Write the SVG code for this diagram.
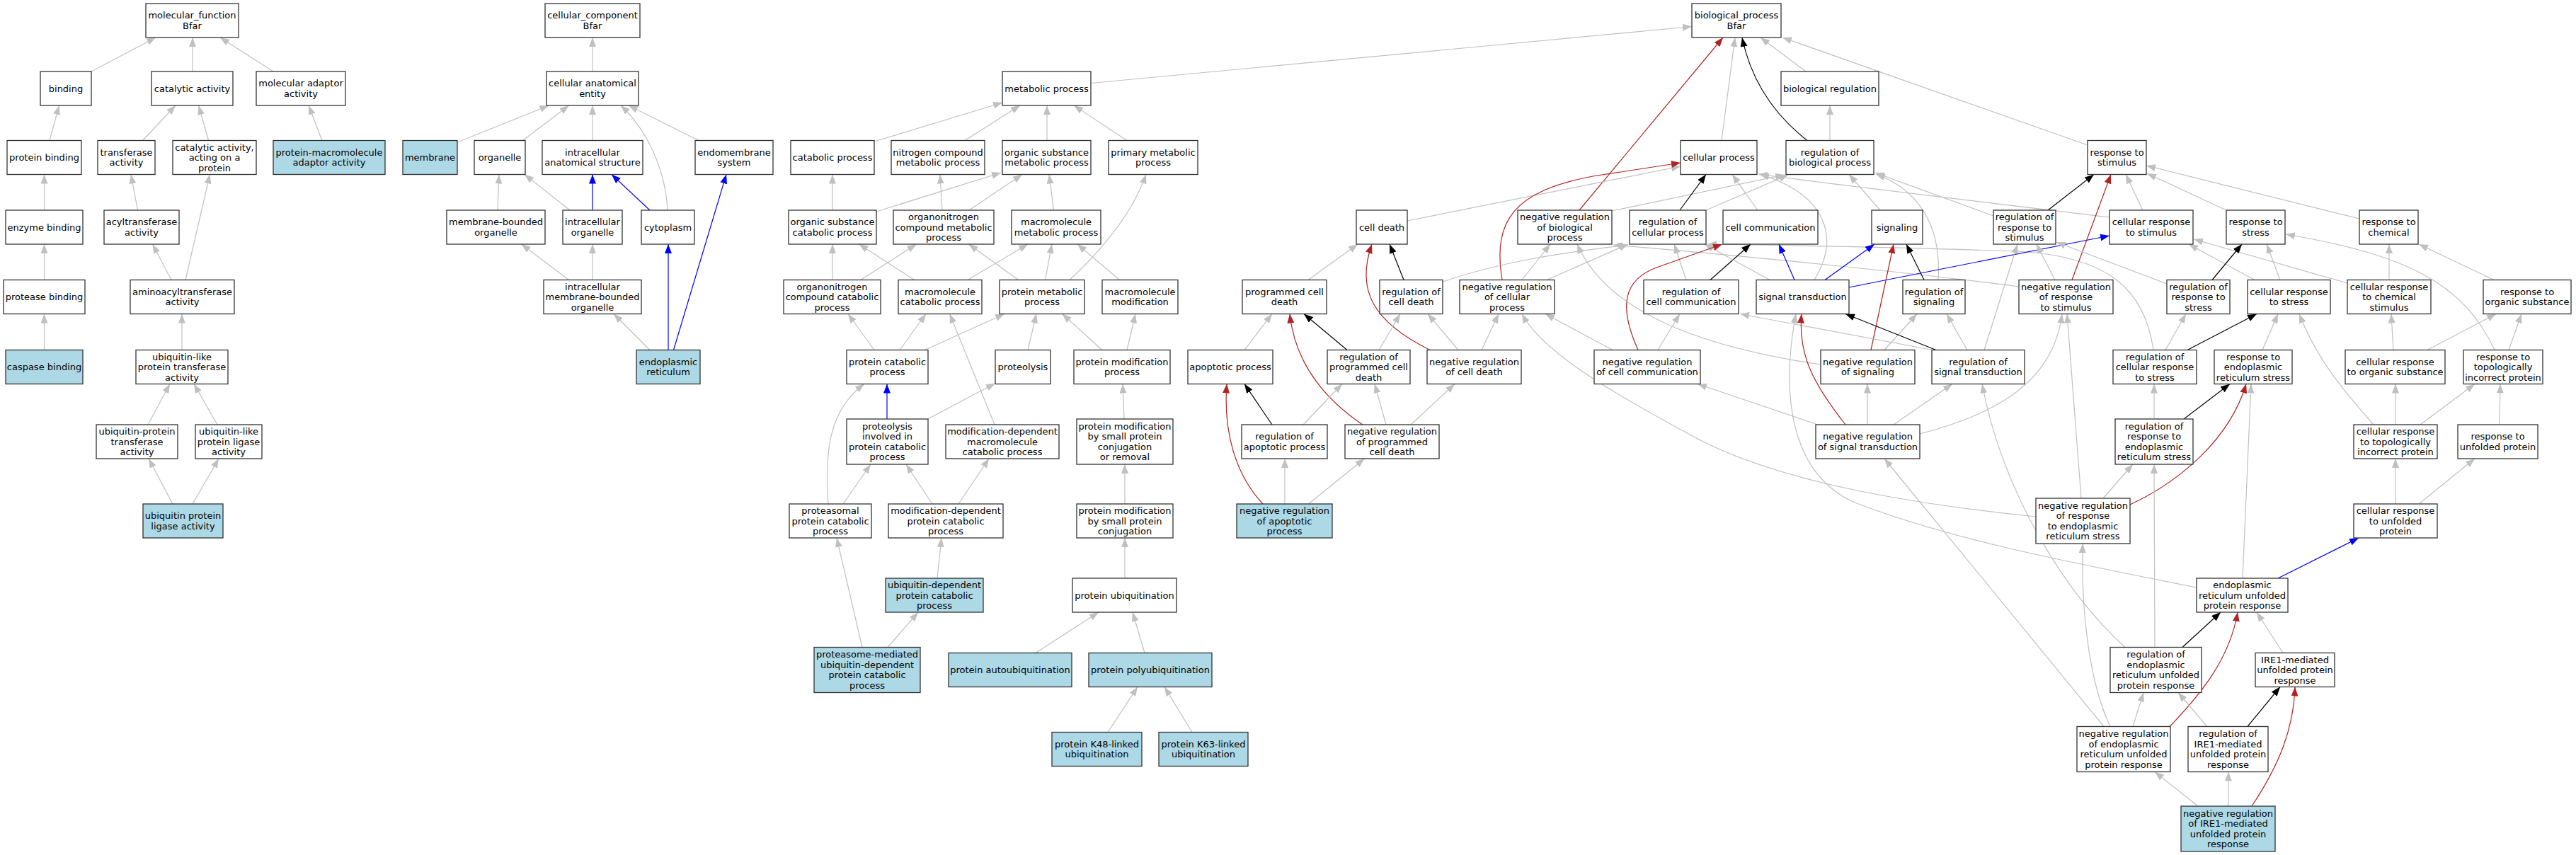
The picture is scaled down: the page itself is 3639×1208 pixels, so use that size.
<svg xmlns="http://www.w3.org/2000/svg" width="3639" height="1208" viewBox="0 0 3639 1208">
<style>
rect{fill:#fff;stroke:#333;stroke-width:1.3}
.hl rect{fill:#add8e6}
text{font-family:"DejaVu Sans",sans-serif;font-size:13px;text-anchor:middle;fill:#000}
#edges path{fill:none;stroke-width:1.2}
#edges .g{stroke:#c0c0c0;marker-end:url(#ag)}
#edges .k{stroke:#000;marker-end:url(#ak)}
#edges .b{stroke:#0000ff;marker-end:url(#ab)}
#edges .r{stroke:#b22222;marker-end:url(#ar)}
</style>
<defs>
<marker id="ag" markerUnits="userSpaceOnUse" markerWidth="13" markerHeight="10" refX="13" refY="5" orient="auto"><path d="M0,0L13,5L0,10z" fill="#c0c0c0"/></marker>
<marker id="ak" markerUnits="userSpaceOnUse" markerWidth="13" markerHeight="10" refX="13" refY="5" orient="auto"><path d="M0,0L13,5L0,10z" fill="#000"/></marker>
<marker id="ab" markerUnits="userSpaceOnUse" markerWidth="13" markerHeight="10" refX="13" refY="5" orient="auto"><path d="M0,0L13,5L0,10z" fill="#0000ff"/></marker>
<marker id="ar" markerUnits="userSpaceOnUse" markerWidth="13" markerHeight="10" refX="13" refY="5" orient="auto"><path d="M0,0L13,5L0,10z" fill="#b22222"/></marker>
</defs>
<rect x="0" y="0" width="3639" height="1208" style="fill:#fff;stroke:none"/>
<g id="edges">
<path class="g" d="M129,101L220,53"/>
<path class="g" d="M272,101L272,53"/>
<path class="g" d="M386,101L311,53"/>
<path class="g" d="M70,198.5L83.5,149"/>
<path class="g" d="M201.5,198.5L248,149"/>
<path class="g" d="M294.6,198.5L280.6,149"/>
<path class="g" d="M455,198.5L436,149"/>
<path class="g" d="M62.5,297L62.5,246.5"/>
<path class="g" d="M194.5,297L185,246.5"/>
<path class="g" d="M62.5,395.5L62.5,345"/>
<path class="g" d="M242,395.5L215.6,345"/>
<path class="g" d="M262,395.5L296.5,246.5"/>
<path class="g" d="M62.5,494.5L62.5,443.5"/>
<path class="g" d="M257,494.5L257,443.5"/>
<path class="g" d="M209,600L240,542.5"/>
<path class="g" d="M307,600L274,542.5"/>
<path class="g" d="M244,712L210,648"/>
<path class="g" d="M272,712L309,648"/>
<path class="g" d="M837,101L837,53"/>
<path class="g" d="M646,201L775.5,149"/>
<path class="g" d="M738.5,198.5L803.6,149"/>
<path class="g" d="M837,198.5L837,149"/>
<path class="g" d="M943,297C940,240 915,185 877,149"/>
<path class="g" d="M987,198.5L888,149"/>
<path class="g" d="M703,297L705,246.5"/>
<path class="g" d="M805,297L741,246.5"/>
<path class="b" d="M837,297L837,246.5"/>
<path class="b" d="M918,297L864,246.5"/>
<path class="g" d="M803.6,395.5L736.6,345"/>
<path class="g" d="M837,395.5L837,345"/>
<path class="g" d="M918,494.5L867,443.5"/>
<path class="b" d="M944,494.5L944,345"/>
<path class="b" d="M951.5,494.5L1026,246.5"/>
<path class="g" d="M1541,117.5L2390,37.5"/>
<path class="g" d="M1235,200L1416,145"/>
<path class="g" d="M1363,198.5L1441,149"/>
<path class="g" d="M1479,198.5L1479,149"/>
<path class="g" d="M1592,198.5L1517,149"/>
<path class="g" d="M1176,297L1176,246.5"/>
<path class="g" d="M1238,299L1414,244"/>
<path class="g" d="M1331,297L1328,246.5"/>
<path class="g" d="M1369,297L1444,246.5"/>
<path class="g" d="M1488.5,297L1482,246.5"/>
<path class="g" d="M1176,395.5L1176,345"/>
<path class="g" d="M1216,395.5L1294.5,345"/>
<path class="g" d="M1291.6,395.5L1213.5,345"/>
<path class="g" d="M1367,395.5L1452,345"/>
<path class="g" d="M1438.6,395.5L1368.5,345"/>
<path class="g" d="M1476.5,395.5L1486,345"/>
<path class="g" d="M1511,395.5C1560,350 1600,300 1619,246.5"/>
<path class="g" d="M1581.5,395.5L1522,345"/>
<path class="g" d="M1235,494.5L1198,443.5"/>
<path class="g" d="M1271,494.5L1308,443.5"/>
<path class="g" d="M1306.5,494.5L1419,443.5"/>
<path class="g" d="M1452,494.5L1464,443.5"/>
<path class="g" d="M1557,494.5L1500.6,443.5"/>
<path class="g" d="M1592,494.5L1604,443.5"/>
<path class="g" d="M1758,494.5L1797,443.5"/>
<path class="g" d="M1848,395.5L1918,345"/>
<path class="k" d="M1903,494.5L1842,443.5"/>
<path class="r" d="M1784,712C1745,670 1728,610 1733,542.5"/>
<path class="k" d="M1797,600L1758,542.5"/>
<path class="r" d="M1925,600C1880,570 1830,520 1822,443.5"/>
<path class="g" d="M1815,712L1815,648"/>
<path class="g" d="M1848.5,712L1927.5,648"/>
<path class="g" d="M1588,592L1586,542.5"/>
<path class="g" d="M1589,712L1589,656"/>
<path class="g" d="M1589,817L1589,760"/>
<path class="g" d="M1463,922.5L1552,865"/>
<path class="g" d="M1617,922.5L1600,865"/>
<path class="g" d="M1565,1034.5L1607,970.5"/>
<path class="g" d="M1684,1034.5L1645,970.5"/>
<path class="b" d="M1253,592L1253,542.5"/>
<path class="g" d="M1310.6,592L1406,541.5"/>
<path class="g" d="M1405,600L1341.6,443.5"/>
<path class="g" d="M1170,712C1165,640 1170,580 1221,542.5"/>
<path class="g" d="M1191,712L1230,656"/>
<path class="g" d="M1317,712L1280,656"/>
<path class="g" d="M1354,712L1397,648"/>
<path class="g" d="M1324,817L1330,760"/>
<path class="g" d="M1218,914.5L1182,760"/>
<path class="g" d="M1254,914.5L1297,865"/>
<path class="g" d="M2432,198.5L2451,53"/>
<path class="k" d="M2553,198.5C2510,165 2475,120 2461,53"/>
<path class="g" d="M2551,101L2487,53"/>
<path class="g" d="M2949,205L2518,53"/>
<path class="g" d="M2585,198.5L2585,149"/>
<path class="r" d="M2231,297L2434,53"/>
<path class="g" d="M2277,298L2521,247"/>
<path class="g" d="M2410,297L2526,247"/>
<path class="k" d="M2373,297L2410,246.5"/>
<path class="g" d="M2483,297L2447,246.5"/>
<path class="g" d="M1988,312L2374,235"/>
<path class="r" d="M2122,395.5C2108,310 2140,270 2250,249L2374,230"/>
<path class="g" d="M2563,395.5C2600,335 2580,275 2486,246"/>
<path class="g" d="M2980,307C2800,285 2600,262 2484,246"/>
<path class="g" d="M2656,297L2612,246.5"/>
<path class="g" d="M2738,395.5C2742,330 2720,272 2650,246"/>
<path class="g" d="M2816,305L2649,244"/>
<path class="g" d="M2150,395.5L2190,345"/>
<path class="g" d="M2185,395.5L2300,345"/>
<path class="g" d="M2038,398C2120,370 2200,358 2299,346"/>
<path class="g" d="M2852,405C2700,385 2450,360 2279,346"/>
<path class="g" d="M3042,494.5C3030,410 2980,362 2850,355C2700,350 2550,347 2412,345"/>
<path class="k" d="M2416,395.5L2473,345"/>
<path class="g" d="M2382,395.5L2365,345"/>
<path class="b" d="M2535,395.5L2513,345"/>
<path class="b" d="M2578,395.5L2648,345"/>
<path class="g" d="M2500,395.5L2408,345"/>
<path class="b" d="M2612,406L2980,333"/>
<path class="k" d="M2718,395.5L2693,345"/>
<path class="r" d="M2314,494.5C2285,430 2295,395 2340,378L2433,345"/>
<path class="g" d="M2342,494.5L2373,443.5"/>
<path class="g" d="M2278,494.5L2183,443.5"/>
<path class="r" d="M2643,494.5L2675,345"/>
<path class="g" d="M2662,494.5L2708,443.5"/>
<path class="g" d="M2572,515C2400,490 2270,440 2228,345"/>
<path class="k" d="M2735,494.5L2607,443.5"/>
<path class="g" d="M2779,494.5L2750,443.5"/>
<path class="g" d="M2730,494.5L2458,443.5"/>
<path class="g" d="M2803,494.5L2850,345"/>
<path class="g" d="M2638,600L2638,542.5"/>
<path class="r" d="M2607,600C2560,540 2540,500 2545,443.5"/>
<path class="g" d="M2675,600L2758,542.5"/>
<path class="g" d="M2568,600L2398,542.5"/>
<path class="g" d="M2712,613C2800,590 2900,550 2913,443.5"/>
<path class="k" d="M1983,395.5L1963,345"/>
<path class="r" d="M2020,494.5C1940,455 1915,410 1938,345"/>
<path class="g" d="M2060,494.5L2017,443.5"/>
<path class="g" d="M2093,494.5L2117,443.5"/>
<path class="g" d="M1948,494.5L1978,443.5"/>
<path class="g" d="M1958,600L1942,542.5"/>
<path class="g" d="M1993,600L2055,542.5"/>
<path class="g" d="M1841,600L1896,542.5"/>
<path class="k" d="M2893,297L2958,246.5"/>
<path class="r" d="M2927,395.5L2982,246.5"/>
<path class="g" d="M3027,297L3003,246.5"/>
<path class="g" d="M3145,297L3033,245"/>
<path class="g" d="M3333,309L3032,234"/>
<path class="g" d="M2903,395.5L2877,345"/>
<path class="g" d="M3061,401L2905,342"/>
<path class="g" d="M3185,395.5L3092,345"/>
<path class="g" d="M3316,400L3099,338"/>
<path class="k" d="M3125,395.5L3167,345"/>
<path class="g" d="M3221,395.5L3202,345"/>
<path class="g" d="M3524,494.5C3480,400 3400,360 3229,331"/>
<path class="g" d="M3375,395.5L3375,345"/>
<path class="g" d="M3523,395.5L3417,345"/>
<path class="g" d="M3059,494.5L3088,443.5"/>
<path class="k" d="M3090,494.5L3188,443.5"/>
<path class="g" d="M3196,494.5L3218,443.5"/>
<path class="g" d="M3381,494.5L3378,443.5"/>
<path class="g" d="M3429,494.5L3526,443.5"/>
<path class="g" d="M3544,494.5L3562,443.5"/>
<path class="g" d="M3353,600C3300,540 3270,500 3248,443.5"/>
<path class="g" d="M3384,600L3384,542.5"/>
<path class="g" d="M3419,600L3496,542.5"/>
<path class="g" d="M3531,600L3532,542.5"/>
<path class="g" d="M3384,712L3384,648"/>
<path class="g" d="M3417,712L3496,648"/>
<path class="b" d="M3218,817L3332,760"/>
<path class="g" d="M3168,817L3180,542.5"/>
<path class="g" d="M3043,592L3043,542.5"/>
<path class="k" d="M3085,592L3150,542.5"/>
<path class="g" d="M2971,704L3013,656"/>
<path class="r" d="M3009,713C3080,680 3150,620 3173,542.5"/>
<path class="g" d="M2940,704L2920,443.5"/>
<path class="g" d="M2876,730C2700,712 2500,680 2380,610C2250,540 2175,490 2150,443.5"/>
<path class="g" d="M3103,830C2900,790 2750,760 2620,710C2530,670 2515,560 2537,443.5"/>
<path class="k" d="M3083,914.5L3137,865"/>
<path class="g" d="M3044,914.5L3043,656"/>
<path class="g" d="M3002,914.5C2920,840 2830,700 2800,542.5"/>
<path class="g" d="M3225,922.5L3188,865"/>
<path class="g" d="M3013,1026.5L3028,978.5"/>
<path class="r" d="M3065,1026.5C3110,980 3150,930 3161,865"/>
<path class="g" d="M2972,1026.5L2662,648"/>
<path class="g" d="M2981,1026.5C2950,960 2940,860 2942,768"/>
<path class="k" d="M3175,1026.5L3221,970.5"/>
<path class="g" d="M3118,1026.5L3077,978.5"/>
<path class="g" d="M3105,1139L3044,1090.5"/>
<path class="g" d="M3148,1139L3148,1090.5"/>
<path class="r" d="M3181,1139C3220,1080 3240,1030 3242,970.5"/>
</g>
<g id="n-mf"><rect x="206" y="5" width="131" height="48"/><text><tspan x="271.5" y="26.25">molecular_function</tspan><tspan x="271.5" y="40.75">Bfar</tspan></text></g>
<g id="n-binding"><rect x="57" y="101" width="72" height="48"/><text x="93" y="129.5">binding</text></g>
<g id="n-catalytic"><rect x="214" y="101" width="115" height="48"/><text x="271.5" y="129.5">catalytic activity</text></g>
<g id="n-moladaptor"><rect x="362" y="101" width="126" height="48"/><text><tspan x="425" y="122.25">molecular adaptor</tspan><tspan x="425" y="136.75">activity</tspan></text></g>
<g id="n-proteinbinding"><rect x="10" y="198.5" width="105" height="48"/><text x="62.5" y="227">protein binding</text></g>
<g id="n-transferase"><rect x="138" y="198.5" width="81" height="48"/><text><tspan x="178.5" y="219.75">transferase</tspan><tspan x="178.5" y="234.25">activity</tspan></text></g>
<g id="n-catprotein"><rect x="244" y="198.5" width="118" height="48"/><text><tspan x="303" y="212.5">catalytic activity,</tspan><tspan x="303" y="227">acting on a</tspan><tspan x="303" y="241.5">protein</tspan></text></g>
<g id="n-pmadaptor" class="hl"><rect x="386" y="198.5" width="158" height="48"/><text><tspan x="465" y="219.75">protein-macromolecule</tspan><tspan x="465" y="234.25">adaptor activity</tspan></text></g>
<g id="n-enzymebinding"><rect x="8" y="297" width="109" height="48"/><text x="62.5" y="325.5">enzyme binding</text></g>
<g id="n-acyl"><rect x="147" y="297" width="106" height="48"/><text><tspan x="200" y="318.25">acyltransferase</tspan><tspan x="200" y="332.75">activity</tspan></text></g>
<g id="n-proteasebinding"><rect x="5" y="395.5" width="115" height="48"/><text x="62.5" y="424">protease binding</text></g>
<g id="n-aminoacyl"><rect x="184" y="395.5" width="147" height="48"/><text><tspan x="257.5" y="416.75">aminoacyltransferase</tspan><tspan x="257.5" y="431.25">activity</tspan></text></g>
<g id="n-caspase" class="hl"><rect x="8" y="494.5" width="109" height="48"/><text x="62.5" y="523">caspase binding</text></g>
<g id="n-ubltransferase"><rect x="192" y="494.5" width="130" height="48"/><text><tspan x="257" y="508.5">ubiquitin-like</tspan><tspan x="257" y="523">protein transferase</tspan><tspan x="257" y="537.5">activity</tspan></text></g>
<g id="n-ubtransferase"><rect x="136" y="600" width="115" height="48"/><text><tspan x="193.5" y="614">ubiquitin-protein</tspan><tspan x="193.5" y="628.5">transferase</tspan><tspan x="193.5" y="643">activity</tspan></text></g>
<g id="n-ublligase"><rect x="276" y="600" width="94" height="48"/><text><tspan x="323" y="614">ubiquitin-like</tspan><tspan x="323" y="628.5">protein ligase</tspan><tspan x="323" y="643">activity</tspan></text></g>
<g id="n-ubligase" class="hl"><rect x="202" y="712" width="113" height="48"/><text><tspan x="258.5" y="733.25">ubiquitin protein</tspan><tspan x="258.5" y="747.75">ligase activity</tspan></text></g>
<g id="n-cc"><rect x="770" y="5" width="134" height="48"/><text><tspan x="837" y="26.25">cellular_component</tspan><tspan x="837" y="40.75">Bfar</tspan></text></g>
<g id="n-cae"><rect x="772" y="101" width="130" height="48"/><text><tspan x="837" y="122.25">cellular anatomical</tspan><tspan x="837" y="136.75">entity</tspan></text></g>
<g id="n-membrane" class="hl"><rect x="569" y="198.5" width="77" height="48"/><text x="607.5" y="227">membrane</text></g>
<g id="n-organelle"><rect x="670" y="198.5" width="72" height="48"/><text x="706" y="227">organelle</text></g>
<g id="n-ias"><rect x="766" y="198.5" width="142" height="48"/><text><tspan x="837" y="219.75">intracellular</tspan><tspan x="837" y="234.25">anatomical structure</tspan></text></g>
<g id="n-endomembrane"><rect x="982" y="198.5" width="110" height="48"/><text><tspan x="1037" y="219.75">endomembrane</tspan><tspan x="1037" y="234.25">system</tspan></text></g>
<g id="n-mbo"><rect x="631" y="297" width="139" height="48"/><text><tspan x="700.5" y="318.25">membrane-bounded</tspan><tspan x="700.5" y="332.75">organelle</tspan></text></g>
<g id="n-io"><rect x="795" y="297" width="84" height="48"/><text><tspan x="837" y="318.25">intracellular</tspan><tspan x="837" y="332.75">organelle</tspan></text></g>
<g id="n-cytoplasm"><rect x="906" y="297" width="75" height="48"/><text x="943.5" y="325.5">cytoplasm</text></g>
<g id="n-imbo"><rect x="768" y="395.5" width="138" height="48"/><text><tspan x="837" y="409.5">intracellular</tspan><tspan x="837" y="424">membrane-bounded</tspan><tspan x="837" y="438.5">organelle</tspan></text></g>
<g id="n-er" class="hl"><rect x="899" y="494.5" width="90" height="48"/><text><tspan x="944" y="515.75">endoplasmic</tspan><tspan x="944" y="530.25">reticulum</tspan></text></g>
<g id="n-bp"><rect x="2390" y="5" width="126" height="48"/><text><tspan x="2453" y="26.25">biological_process</tspan><tspan x="2453" y="40.75">Bfar</tspan></text></g>
<g id="n-mp"><rect x="1416" y="101" width="125" height="48"/><text x="1478.5" y="129.5">metabolic process</text></g>
<g id="n-catabolic"><rect x="1117" y="198.5" width="118" height="48"/><text x="1176" y="227">catabolic process</text></g>
<g id="n-ncmp"><rect x="1259" y="198.5" width="132" height="48"/><text><tspan x="1325" y="219.75">nitrogen compound</tspan><tspan x="1325" y="234.25">metabolic process</tspan></text></g>
<g id="n-osmp"><rect x="1416" y="198.5" width="125" height="48"/><text><tspan x="1478.5" y="219.75">organic substance</tspan><tspan x="1478.5" y="234.25">metabolic process</tspan></text></g>
<g id="n-primary"><rect x="1566" y="198.5" width="126" height="48"/><text><tspan x="1629" y="219.75">primary metabolic</tspan><tspan x="1629" y="234.25">process</tspan></text></g>
<g id="n-oscp"><rect x="1114" y="297" width="124" height="48"/><text><tspan x="1176" y="318.25">organic substance</tspan><tspan x="1176" y="332.75">catabolic process</tspan></text></g>
<g id="n-oncmp"><rect x="1262" y="297" width="142" height="48"/><text><tspan x="1333" y="311">organonitrogen</tspan><tspan x="1333" y="325.5">compound metabolic</tspan><tspan x="1333" y="340">process</tspan></text></g>
<g id="n-mmp"><rect x="1429" y="297" width="126" height="48"/><text><tspan x="1492" y="318.25">macromolecule</tspan><tspan x="1492" y="332.75">metabolic process</tspan></text></g>
<g id="n-onccp"><rect x="1107" y="395.5" width="137" height="48"/><text><tspan x="1175.5" y="409.5">organonitrogen</tspan><tspan x="1175.5" y="424">compound catabolic</tspan><tspan x="1175.5" y="438.5">process</tspan></text></g>
<g id="n-mcp"><rect x="1269" y="395.5" width="118" height="48"/><text><tspan x="1328" y="416.75">macromolecule</tspan><tspan x="1328" y="431.25">catabolic process</tspan></text></g>
<g id="n-pmp"><rect x="1412" y="395.5" width="120" height="48"/><text><tspan x="1472" y="416.75">protein metabolic</tspan><tspan x="1472" y="431.25">process</tspan></text></g>
<g id="n-mmod"><rect x="1557" y="395.5" width="107" height="48"/><text><tspan x="1610.5" y="416.75">macromolecule</tspan><tspan x="1610.5" y="431.25">modification</tspan></text></g>
<g id="n-pcp"><rect x="1196" y="494.5" width="115" height="48"/><text><tspan x="1253.5" y="515.75">protein catabolic</tspan><tspan x="1253.5" y="530.25">process</tspan></text></g>
<g id="n-proteolysis"><rect x="1406" y="494.5" width="78" height="48"/><text x="1445" y="523">proteolysis</text></g>
<g id="n-pmodp"><rect x="1517" y="494.5" width="136" height="48"/><text><tspan x="1585" y="515.75">protein modification</tspan><tspan x="1585" y="530.25">process</tspan></text></g>
<g id="n-pipcp"><rect x="1196" y="592" width="115" height="64"/><text><tspan x="1253.5" y="606.75">proteolysis</tspan><tspan x="1253.5" y="621.25">involved in</tspan><tspan x="1253.5" y="635.75">protein catabolic</tspan><tspan x="1253.5" y="650.25">process</tspan></text></g>
<g id="n-mdmcp"><rect x="1336" y="600" width="160" height="48"/><text><tspan x="1416" y="614">modification-dependent</tspan><tspan x="1416" y="628.5">macromolecule</tspan><tspan x="1416" y="643">catabolic process</tspan></text></g>
<g id="n-pmspcr"><rect x="1521" y="592" width="136" height="64"/><text><tspan x="1589" y="606.75">protein modification</tspan><tspan x="1589" y="621.25">by small protein</tspan><tspan x="1589" y="635.75">conjugation</tspan><tspan x="1589" y="650.25">or removal</tspan></text></g>
<g id="n-ppcp"><rect x="1115" y="712" width="116" height="48"/><text><tspan x="1173" y="726">proteasomal</tspan><tspan x="1173" y="740.5">protein catabolic</tspan><tspan x="1173" y="755">process</tspan></text></g>
<g id="n-mdpcp"><rect x="1255" y="712" width="162" height="48"/><text><tspan x="1336" y="726">modification-dependent</tspan><tspan x="1336" y="740.5">protein catabolic</tspan><tspan x="1336" y="755">process</tspan></text></g>
<g id="n-pmspc"><rect x="1521" y="712" width="136" height="48"/><text><tspan x="1589" y="726">protein modification</tspan><tspan x="1589" y="740.5">by small protein</tspan><tspan x="1589" y="755">conjugation</tspan></text></g>
<g id="n-udpcp" class="hl"><rect x="1251" y="817" width="138" height="48"/><text><tspan x="1320" y="831">ubiquitin-dependent</tspan><tspan x="1320" y="845.5">protein catabolic</tspan><tspan x="1320" y="860">process</tspan></text></g>
<g id="n-pu"><rect x="1515" y="817" width="147" height="48"/><text x="1588.5" y="845.5">protein ubiquitination</text></g>
<g id="n-pmudpcp" class="hl"><rect x="1150" y="914.5" width="150" height="64"/><text><tspan x="1225" y="929.25">proteasome-mediated</tspan><tspan x="1225" y="943.75">ubiquitin-dependent</tspan><tspan x="1225" y="958.25">protein catabolic</tspan><tspan x="1225" y="972.75">process</tspan></text></g>
<g id="n-pau" class="hl"><rect x="1340" y="922.5" width="174" height="48"/><text x="1427" y="951">protein autoubiquitination</text></g>
<g id="n-ppu" class="hl"><rect x="1538" y="922.5" width="174" height="48"/><text x="1625" y="951">protein polyubiquitination</text></g>
<g id="n-k48" class="hl"><rect x="1486" y="1034.5" width="127" height="48"/><text><tspan x="1549.5" y="1055.75">protein K48-linked</tspan><tspan x="1549.5" y="1070.25">ubiquitination</tspan></text></g>
<g id="n-k63" class="hl"><rect x="1637" y="1034.5" width="126" height="48"/><text><tspan x="1700" y="1055.75">protein K63-linked</tspan><tspan x="1700" y="1070.25">ubiquitination</tspan></text></g>
<g id="n-pcd"><rect x="1755" y="395.5" width="119" height="48"/><text><tspan x="1814.5" y="416.75">programmed cell</tspan><tspan x="1814.5" y="431.25">death</tspan></text></g>
<g id="n-ap"><rect x="1678" y="494.5" width="120" height="48"/><text x="1738" y="523">apoptotic process</text></g>
<g id="n-rpcd"><rect x="1875" y="494.5" width="117" height="48"/><text><tspan x="1933.5" y="508.5">regulation of</tspan><tspan x="1933.5" y="523">programmed cell</tspan><tspan x="1933.5" y="537.5">death</tspan></text></g>
<g id="n-rap"><rect x="1754" y="600" width="121" height="48"/><text><tspan x="1814.5" y="621.25">regulation of</tspan><tspan x="1814.5" y="635.75">apoptotic process</tspan></text></g>
<g id="n-nrpcd"><rect x="1900" y="600" width="133" height="48"/><text><tspan x="1966.5" y="614">negative regulation</tspan><tspan x="1966.5" y="628.5">of programmed</tspan><tspan x="1966.5" y="643">cell death</tspan></text></g>
<g id="n-nrap" class="hl"><rect x="1747" y="712" width="135" height="48"/><text><tspan x="1814.5" y="726">negative regulation</tspan><tspan x="1814.5" y="740.5">of apoptotic</tspan><tspan x="1814.5" y="755">process</tspan></text></g>
<g id="n-celldeath"><rect x="1916" y="297" width="72" height="48"/><text x="1952" y="325.5">cell death</text></g>
<g id="n-rcd"><rect x="1949" y="395.5" width="89" height="48"/><text><tspan x="1993.5" y="416.75">regulation of</tspan><tspan x="1993.5" y="431.25">cell death</tspan></text></g>
<g id="n-nrcd"><rect x="2016" y="494.5" width="133" height="48"/><text><tspan x="2082.5" y="515.75">negative regulation</tspan><tspan x="2082.5" y="530.25">of cell death</tspan></text></g>
<g id="n-bioreg"><rect x="2516" y="101" width="138" height="48"/><text x="2585" y="129.5">biological regulation</text></g>
<g id="n-cp"><rect x="2374" y="198.5" width="108" height="48"/><text x="2428" y="227">cellular process</text></g>
<g id="n-rbp"><rect x="2523" y="198.5" width="124" height="48"/><text><tspan x="2585" y="219.75">regulation of</tspan><tspan x="2585" y="234.25">biological process</tspan></text></g>
<g id="n-nrbp"><rect x="2144" y="297" width="133" height="48"/><text><tspan x="2210.5" y="311">negative regulation</tspan><tspan x="2210.5" y="325.5">of biological</tspan><tspan x="2210.5" y="340">process</tspan></text></g>
<g id="n-rcp"><rect x="2302" y="297" width="108" height="48"/><text><tspan x="2356" y="318.25">regulation of</tspan><tspan x="2356" y="332.75">cellular process</tspan></text></g>
<g id="n-cellcomm"><rect x="2434" y="297" width="134" height="48"/><text x="2501" y="325.5">cell communication</text></g>
<g id="n-signaling"><rect x="2644" y="297" width="72" height="48"/><text x="2680" y="325.5">signaling</text></g>
<g id="n-nrcp"><rect x="2062" y="395.5" width="134" height="48"/><text><tspan x="2129" y="409.5">negative regulation</tspan><tspan x="2129" y="424">of cellular</tspan><tspan x="2129" y="438.5">process</tspan></text></g>
<g id="n-rcc"><rect x="2322" y="395.5" width="134" height="48"/><text><tspan x="2389" y="416.75">regulation of</tspan><tspan x="2389" y="431.25">cell communication</tspan></text></g>
<g id="n-st"><rect x="2481" y="395.5" width="131" height="48"/><text x="2546.5" y="424">signal transduction</text></g>
<g id="n-rsig"><rect x="2688" y="395.5" width="88" height="48"/><text><tspan x="2732" y="416.75">regulation of</tspan><tspan x="2732" y="431.25">signaling</tspan></text></g>
<g id="n-nrcc"><rect x="2252" y="494.5" width="150" height="48"/><text><tspan x="2327" y="515.75">negative regulation</tspan><tspan x="2327" y="530.25">of cell communication</tspan></text></g>
<g id="n-nrs"><rect x="2572" y="494.5" width="133" height="48"/><text><tspan x="2638.5" y="515.75">negative regulation</tspan><tspan x="2638.5" y="530.25">of signaling</tspan></text></g>
<g id="n-rst"><rect x="2729" y="494.5" width="131" height="48"/><text><tspan x="2794.5" y="515.75">regulation of</tspan><tspan x="2794.5" y="530.25">signal transduction</tspan></text></g>
<g id="n-nrst"><rect x="2565" y="600" width="147" height="48"/><text><tspan x="2638.5" y="621.25">negative regulation</tspan><tspan x="2638.5" y="635.75">of signal transduction</tspan></text></g>
<g id="n-rts"><rect x="2949" y="198.5" width="83" height="48"/><text><tspan x="2990.5" y="219.75">response to</tspan><tspan x="2990.5" y="234.25">stimulus</tspan></text></g>
<g id="n-rrs"><rect x="2816" y="297" width="88" height="48"/><text><tspan x="2860" y="311">regulation of</tspan><tspan x="2860" y="325.5">response to</tspan><tspan x="2860" y="340">stimulus</tspan></text></g>
<g id="n-crs"><rect x="2980" y="297" width="118" height="48"/><text><tspan x="3039" y="318.25">cellular response</tspan><tspan x="3039" y="332.75">to stimulus</tspan></text></g>
<g id="n-rstress"><rect x="3145" y="297" width="83" height="48"/><text><tspan x="3186.5" y="318.25">response to</tspan><tspan x="3186.5" y="332.75">stress</tspan></text></g>
<g id="n-rchem"><rect x="3333" y="297" width="83" height="48"/><text><tspan x="3374.5" y="318.25">response to</tspan><tspan x="3374.5" y="332.75">chemical</tspan></text></g>
<g id="n-nrrs"><rect x="2852" y="395.5" width="133" height="48"/><text><tspan x="2918.5" y="409.5">negative regulation</tspan><tspan x="2918.5" y="424">of response</tspan><tspan x="2918.5" y="438.5">to stimulus</tspan></text></g>
<g id="n-rrstress"><rect x="3061" y="395.5" width="89" height="48"/><text><tspan x="3105.5" y="409.5">regulation of</tspan><tspan x="3105.5" y="424">response to</tspan><tspan x="3105.5" y="438.5">stress</tspan></text></g>
<g id="n-crstress"><rect x="3175" y="395.5" width="117" height="48"/><text><tspan x="3233.5" y="416.75">cellular response</tspan><tspan x="3233.5" y="431.25">to stress</tspan></text></g>
<g id="n-crcs"><rect x="3316" y="395.5" width="118" height="48"/><text><tspan x="3375" y="409.5">cellular response</tspan><tspan x="3375" y="424">to chemical</tspan><tspan x="3375" y="438.5">stimulus</tspan></text></g>
<g id="n-ros"><rect x="3508" y="395.5" width="124" height="48"/><text><tspan x="3570" y="416.75">response to</tspan><tspan x="3570" y="431.25">organic substance</tspan></text></g>
<g id="n-rcrs"><rect x="2985" y="494.5" width="118" height="48"/><text><tspan x="3044" y="508.5">regulation of</tspan><tspan x="3044" y="523">cellular response</tspan><tspan x="3044" y="537.5">to stress</tspan></text></g>
<g id="n-rers"><rect x="3128" y="494.5" width="110" height="48"/><text><tspan x="3183" y="508.5">response to</tspan><tspan x="3183" y="523">endoplasmic</tspan><tspan x="3183" y="537.5">reticulum stress</tspan></text></g>
<g id="n-cros"><rect x="3313" y="494.5" width="141" height="48"/><text><tspan x="3383.5" y="515.75">cellular response</tspan><tspan x="3383.5" y="530.25">to organic substance</tspan></text></g>
<g id="n-rtip"><rect x="3480" y="494.5" width="112" height="48"/><text><tspan x="3536" y="508.5">response to</tspan><tspan x="3536" y="523">topologically</tspan><tspan x="3536" y="537.5">incorrect protein</tspan></text></g>
<g id="n-rrers"><rect x="2988" y="592" width="110" height="64"/><text><tspan x="3043" y="606.75">regulation of</tspan><tspan x="3043" y="621.25">response to</tspan><tspan x="3043" y="635.75">endoplasmic</tspan><tspan x="3043" y="650.25">reticulum stress</tspan></text></g>
<g id="n-crtip"><rect x="3325" y="600" width="118" height="48"/><text><tspan x="3384" y="614">cellular response</tspan><tspan x="3384" y="628.5">to topologically</tspan><tspan x="3384" y="643">incorrect protein</tspan></text></g>
<g id="n-rup"><rect x="3472" y="600" width="113" height="48"/><text><tspan x="3528.5" y="621.25">response to</tspan><tspan x="3528.5" y="635.75">unfolded protein</tspan></text></g>
<g id="n-nrrers"><rect x="2876" y="704" width="133" height="64"/><text><tspan x="2942.5" y="718.75">negative regulation</tspan><tspan x="2942.5" y="733.25">of response</tspan><tspan x="2942.5" y="747.75">to endoplasmic</tspan><tspan x="2942.5" y="762.25">reticulum stress</tspan></text></g>
<g id="n-crup"><rect x="3325" y="712" width="118" height="48"/><text><tspan x="3384" y="726">cellular response</tspan><tspan x="3384" y="740.5">to unfolded</tspan><tspan x="3384" y="755">protein</tspan></text></g>
<g id="n-erupr"><rect x="3103" y="817" width="129" height="48"/><text><tspan x="3167.5" y="831">endoplasmic</tspan><tspan x="3167.5" y="845.5">reticulum unfolded</tspan><tspan x="3167.5" y="860">protein response</tspan></text></g>
<g id="n-rerupr"><rect x="2981" y="914.5" width="129" height="64"/><text><tspan x="3045.5" y="929.25">regulation of</tspan><tspan x="3045.5" y="943.75">endoplasmic</tspan><tspan x="3045.5" y="958.25">reticulum unfolded</tspan><tspan x="3045.5" y="972.75">protein response</tspan></text></g>
<g id="n-ire1"><rect x="3186" y="922.5" width="112" height="48"/><text><tspan x="3242" y="936.5">IRE1-mediated</tspan><tspan x="3242" y="951">unfolded protein</tspan><tspan x="3242" y="965.5">response</tspan></text></g>
<g id="n-nrerupr"><rect x="2934" y="1026.5" width="132" height="64"/><text><tspan x="3000" y="1041.25">negative regulation</tspan><tspan x="3000" y="1055.75">of endoplasmic</tspan><tspan x="3000" y="1070.25">reticulum unfolded</tspan><tspan x="3000" y="1084.75">protein response</tspan></text></g>
<g id="n-rire1"><rect x="3091" y="1026.5" width="113" height="64"/><text><tspan x="3147.5" y="1041.25">regulation of</tspan><tspan x="3147.5" y="1055.75">IRE1-mediated</tspan><tspan x="3147.5" y="1070.25">unfolded protein</tspan><tspan x="3147.5" y="1084.75">response</tspan></text></g>
<g id="n-nrire1" class="hl"><rect x="3081" y="1139" width="133" height="64"/><text><tspan x="3147.5" y="1153.75">negative regulation</tspan><tspan x="3147.5" y="1168.25">of IRE1-mediated</tspan><tspan x="3147.5" y="1182.75">unfolded protein</tspan><tspan x="3147.5" y="1197.25">response</tspan></text></g>
</svg>
